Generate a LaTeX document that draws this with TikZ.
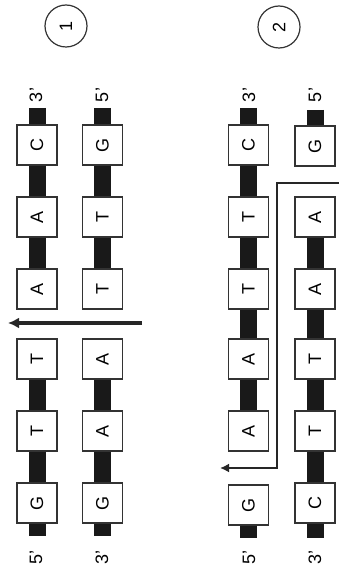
\documentclass[tikz,border=0pt]{standalone}
\usepackage{fontspec}
\setmainfont{Liberation Sans}
\usepackage{xcolor}
\usetikzlibrary{arrows.meta}

\begin{document}
\begin{tikzpicture}[x=1pt, y=-1pt, every node/.style={font=\fontsize{18}{20}\selectfont, rotate=90}, >=Latex]
\tikzset{base/.style={draw=black!80, line width=1.4pt, fill=white, minimum size=40pt, inner sep=0pt},
  strand/.style={line width=17pt, draw=black!90},
  cut/.style={-{Latex[length=11pt,width=11pt]}, line width=3.5pt, draw=black!85},
  stepnum/.style={circle, draw=black!80, line width=1.2pt, minimum size=42pt, inner sep=0pt}}
\useasboundingbox (0,0) rectangle (339,572);
% panel 1
\node[stepnum] (num1) at (66,26) {1};
\node (p1ltl) at (36,95) {3'};\node (p1rtl) at (102,95) {5'};
\node (p1lbl) at (36,557) {5'};\node (p1rbl) at (102,557) {3'};
\coordinate (p1ltop) at (37,108);\coordinate (p1lbot) at (37,536);
\coordinate (p1rtop) at (102.5,108);\coordinate (p1rbot) at (102.5,536);
\node[base] (p1l1) at (37,145) {C};
\node[base] (p1l2) at (37,217) {A};
\node[base] (p1l3) at (37,289) {A};
\node[base] (p1l4) at (37,359) {T};
\node[base] (p1l5) at (37,431) {T};
\node[base] (p1l6) at (37,503) {G};
\node[base] (p1r1) at (102.5,145) {G};
\node[base] (p1r2) at (102.5,217) {T};
\node[base] (p1r3) at (102.5,289) {T};
\node[base] (p1r4) at (102.5,359) {A};
\node[base] (p1r5) at (102.5,431) {A};
\node[base] (p1r6) at (102.5,503) {G};
\draw[strand] (p1ltop) -- (p1l1);\draw[strand] (p1l1) -- (p1l2);\draw[strand] (p1l2) -- (p1l3);
\draw[strand] (p1l4) -- (p1l5);\draw[strand] (p1l5) -- (p1l6);\draw[strand] (p1l6) -- (p1lbot);
\draw[strand] (p1rtop) -- (p1r1);\draw[strand] (p1r1) -- (p1r2);\draw[strand] (p1r2) -- (p1r3);
\draw[strand] (p1r4) -- (p1r5);\draw[strand] (p1r5) -- (p1r6);\draw[strand] (p1r6) -- (p1rbot);
\coordinate (p1cs) at (142,323);\coordinate (p1ce) at (8,323);
\draw[cut] (p1cs) -- (p1ce);
% panel 2
\node[stepnum] (num2) at (279,27) {2};
\node (p2ltl) at (249,95) {3'};\node (p2rtl) at (315,95) {5'};
\node (p2lbl) at (249,557) {5'};\node (p2rbl) at (315,557) {3'};
\coordinate (p2ltop) at (248.5,108);\coordinate (p2lbot) at (248.5,538);
\coordinate (p2rtop) at (315,110);\coordinate (p2rbot) at (315,538);
\node[base] (p2l1) at (248.5,145) {C};
\node[base] (p2l2) at (248.5,217) {T};
\node[base] (p2l3) at (248.5,289) {T};
\node[base] (p2l4) at (248.5,359) {A};
\node[base] (p2l5) at (248.5,431) {A};
\node[base] (p2l6) at (248.5,505) {G};
\node[base] (p2r1) at (315,146) {G};
\node[base] (p2r2) at (315,217) {A};
\node[base] (p2r3) at (315,289) {A};
\node[base] (p2r4) at (315,359) {T};
\node[base] (p2r5) at (315,431) {T};
\node[base] (p2r6) at (315,503) {C};
\draw[strand] (p2ltop) -- (p2l1);\draw[strand] (p2l1) -- (p2l2);\draw[strand] (p2l2) -- (p2l3);
\draw[strand] (p2l3) -- (p2l4);\draw[strand] (p2l4) -- (p2l5);\draw[strand] (p2l6) -- (p2lbot);
\draw[strand] (p2rtop) -- (p2r1);\draw[strand] (p2r2) -- (p2r3);\draw[strand] (p2r3) -- (p2r4);
\draw[strand] (p2r4) -- (p2r5);\draw[strand] (p2r5) -- (p2r6);\draw[strand] (p2r6) -- (p2rbot);
\coordinate (p2cs) at (339,183);\coordinate (p2ck) at (277,468);\coordinate (p2ce) at (220,468);
\draw[cut, line width=2.5pt, -{Latex[length=9pt,width=9pt]}] (p2cs) -| (p2ck) -- (p2ce);
\end{tikzpicture}
\end{document}
